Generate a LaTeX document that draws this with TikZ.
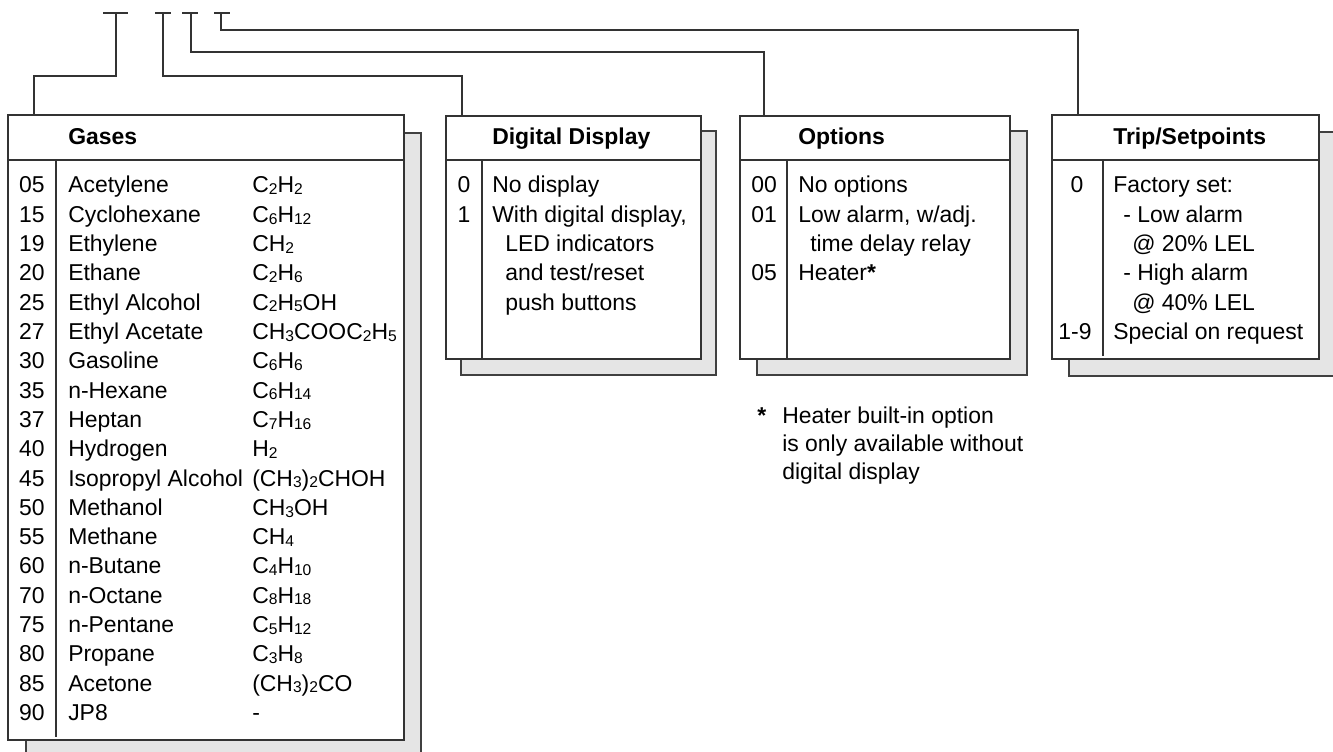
\documentclass[tikz,border=0pt]{standalone}
\usepackage{fontspec}
\setmainfont{Liberation Sans}
\usetikzlibrary{fit}
\newcommand\sbs[1]{\raisebox{-1.3pt}{\fontsize{11.7}{12}\selectfont #1}}
\begin{document}
\begin{tikzpicture}[x=0.75pt,y=-0.75pt,
  every node/.style={font=\fontsize{17.2}{22}\selectfont, inner sep=0pt},
  ln/.style={line width=1pt, draw=black!80},
  box/.style={fill=white, draw=black!80, line width=1pt, inner sep=0pt},
  shd/.style={fill=black!10, draw=black!75, line width=1pt, inner sep=0pt},
  hdr/.style={font=\fontsize{17.2}{22}\selectfont\bfseries, anchor=base west},
  txt/.style={anchor=base west},
  code/.style={anchor=base}]
\useasboundingbox (0,0) rectangle (1333,752);

% shadows
\node[shd, fit={(26,133)(421,760)}] (gasesS) {};
\node[shd, fit={(461,131)(716,375)}] (dispS) {};
\node[shd, fit={(757,131)(1027,375)}] (optS) {};
\node[shd, fit={(1069,132)(1345,376)}] (tripS) {};

% boxes
\node[box, fit={(8,115)(404,740)}] (gases) {};
\node[box, fit={(446,116)(701,359)}] (disp) {};
\node[box, fit={(740,116)(1010,359)}] (opt) {};
\node[box, fit={(1052,115)(1319,359)}] (trip) {};

% header and column lines
\draw[ln] (gases.west |- 0,160) -- (gases.east |- 0,160);
\draw[ln] (56,160) -- (56,737);
\draw[ln] (disp.west |- 0,160) -- (disp.east |- 0,160);
\draw[ln] (482,160) -- (482,359);
\draw[ln] (opt.west |- 0,160) -- (opt.east |- 0,160);
\draw[ln] (787,160) -- (787,359);
\draw[ln] (trip.west |- 0,160) -- (trip.east |- 0,160);
\draw[ln] (1103,160) -- (1103,356);

% connectors
\coordinate (t1) at (116,13);
\coordinate (t2) at (163,13);
\coordinate (t3) at (191,13);
\coordinate (t4) at (221,13);
\coordinate (j1) at (34,76);
\coordinate (j2) at (462,76);
\coordinate (j3) at (764,52);
\coordinate (j4) at (1078,30);
\draw[ln] (t1) ++(-13,0) -- ++(25,0);
\draw[ln] (t2) ++(-8,0) -- ++(16,0);
\draw[ln] (t3) ++(-9,0) -- ++(16,0);
\draw[ln] (t4) ++(-7,0) -- ++(16,0);
\draw[ln] (t1) |- (j1) -- (j1 |- gases.north);
\draw[ln] (t2) |- (j2) -- (j2 |- disp.north);
\draw[ln] (t3) |- (j3) -- (j3 |- opt.north);
\draw[ln] (t4) |- (j4) -- (j4 |- trip.north);

% headers
\node[hdr] (hg) at (68,145) {Gases};
\node[hdr] (hd) at (492,145) {Digital Display};
\node[hdr] (ho) at (798,145) {Options};
\node[hdr] (ht) at (1113,145) {Trip/Setpoints};

% gases rows
\foreach \c/\n/\f [count=\i from 0] in {
  05/Acetylene/C\sbs{2}H\sbs{2},
  15/Cyclohexane/C\sbs{6}H\sbs{12},
  19/Ethylene/CH\sbs{2},
  20/Ethane/C\sbs{2}H\sbs{6},
  25/Ethyl Alcohol/C\sbs{2}H\sbs{5}OH,
  27/Ethyl Acetate/CH\sbs{3}COOC\sbs{2}H\sbs{5},
  30/Gasoline/C\sbs{6}H\sbs{6},
  35/n-Hexane/C\sbs{6}H\sbs{14},
  37/Heptan/C\sbs{7}H\sbs{16},
  40/Hydrogen/H\sbs{2},
  45/Isopropyl Alcohol/(CH\sbs{3})\sbs{2}CHOH,
  50/Methanol/CH\sbs{3}OH,
  55/Methane/CH\sbs{4},
  60/n-Butane/C\sbs{4}H\sbs{10},
  70/n-Octane/C\sbs{8}H\sbs{18},
  75/n-Pentane/C\sbs{5}H\sbs{12},
  80/Propane/C\sbs{3}H\sbs{8},
  85/Acetone/(CH\sbs{3})\sbs{2}CO,
  90/JP8/-}{
  \node[code] (gc\i) at (32,{193+29.3*\i}) {\c};
  \node[txt] (gn\i) at (68,{193+29.3*\i}) {\n};
  \node[txt] (gf\i) at (252,{193+29.3*\i}) {\f};
}

% digital display rows
\node[code] (dc0) at (464,193) {0};
\node[txt] (dt0) at (492,193) {No display};
\node[code] (dc1) at (464,222.3) {1};
\node[txt] (dt1) at (492,222.3) {With digital display,};
\node[txt] (dt2) at (505,251.6) {LED indicators};
\node[txt] (dt3) at (505,280.9) {and test/reset};
\node[txt] (dt4) at (505,310.2) {push buttons};

% options rows
\node[code] (oc0) at (764,193) {00};
\node[txt] (ot0) at (798,193) {No options};
\node[code] (oc1) at (764,222.3) {01};
\node[txt] (ot1) at (798,222.3) {Low alarm, w/adj.};
\node[txt] (ot2) at (810,251.6) {time delay relay};
\node[code] (oc3) at (764,280.9) {05};
\node[txt] (ot3) at (798,280.9) {Heater\textbf{*}};

% trip rows
\node[code] (tc0) at (1077,193) {0};
\node[txt] (tt0) at (1113,193) {Factory set:};
\node[txt] (tt1) at (1123,222.3) {- Low alarm};
\node[txt] (tt2) at (1132,251.6) {@ 20\% LEL};
\node[txt] (tt3) at (1123,280.9) {- High alarm};
\node[txt] (tt4) at (1132,310.2) {@ 40\% LEL};
\node[code] (tc5) at (1075,339.5) {1-9};
\node[txt] (tt5) at (1113,339.5) {Special on request};

% footnote
\node[txt, font=\fontsize{17.2}{22}\selectfont\bfseries] (fs) at (757,423) {*};
\node[txt] (f1) at (782,423) {Heater built-in option};
\node[txt] (f2) at (782,451) {is only available without};
\node[txt] (f3) at (782,479) {digital display};
\end{tikzpicture}
\end{document}
